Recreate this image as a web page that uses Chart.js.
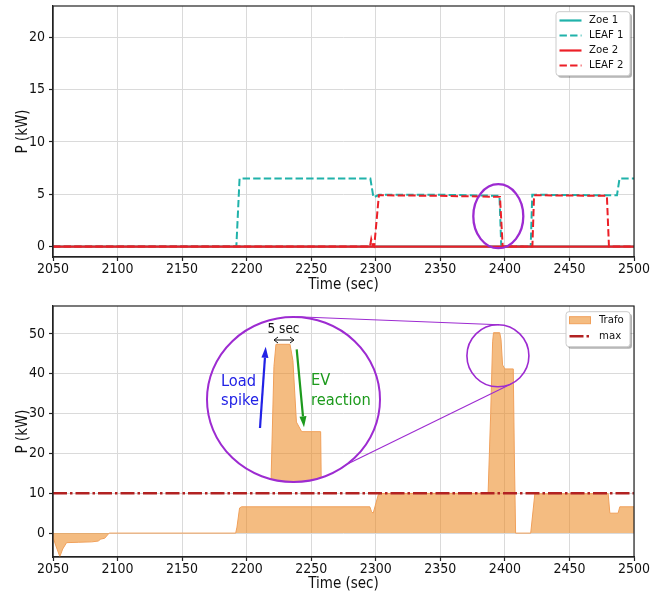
<!DOCTYPE html>
<html>
<head>
<meta charset="utf-8">
<script src="https://cdn.jsdelivr.net/npm/chart.js@4.4.1/dist/chart.umd.min.js"></script>
<style>
  html, body { margin: 0; padding: 0; background: #fff; }
  #wrap { position: relative; width: 668px; height: 594px; overflow: hidden; }
  canvas { position: absolute; left: 0; }
</style>
</head>
<body>
<div id="wrap">
  <canvas id="evChart" width="668" height="296" style="top:0"></canvas>
  <canvas id="trafoChart" width="668" height="298" style="top:296px"></canvas>
  <canvas id="insetChart" width="181" height="173"></canvas>
</div>
<script>
// -----------------------------
// Data
// -----------------------------
const timeTicks = [2050, 2100, 2150, 2200, 2250, 2300, 2350, 2400, 2450, 2500];
const evTicks = [0, 5, 10, 15, 20];
const trafoTicks = [0, 10, 20, 30, 40, 50];

const zoeTime = [2050, 2500];
const zoe1Power = [0, 0];
const zoe2Power = [0, 0];

const leaf1Time  = [2050, 2192, 2194.5, 2295.8, 2298.2, 2302.5, 2350, 2395.8, 2397.2, 2420, 2421.2, 2486.8, 2488.8, 2500];
const leaf1Power = [0, 0, 6.5, 6.5, 4.7, 4.95, 4.95, 4.85, 0, 0, 4.95, 4.9, 6.5, 6.5];

const leaf2Time  = [2050, 2295.5, 2296.5, 2297.8, 2298.8, 2302.4, 2350, 2396.2, 2398.3, 2421.3, 2422.6, 2479, 2480.6, 2500];
const leaf2Power = [0, 0, 0.7, 0.1, 0, 4.9, 4.85, 4.75, 0, 0, 4.9, 4.85, 0, 0];

const trafoTime  = [2050, 2052, 2055.3, 2057.5, 2060.5, 2070, 2080, 2085, 2087, 2090, 2093.5, 2191.5, 2192.5, 2194.5, 2196,
                    2295.4, 2296.7, 2298, 2301.9, 2304, 2387, 2389, 2390.5, 2391.2, 2396, 2397, 2398.2, 2400, 2406.5,
                    2407.3, 2408.3, 2420, 2423.2, 2480, 2481.3, 2487.7, 2489, 2500];
const trafoPower = [-1, -3, -5.9, -4, -2.4, -2.3, -2.2, -2.0, -1.5, -1.3, 0, 0, 1.5, 6.3, 6.6,
                    6.6, 5.4, 5.0, 9.6, 9.95, 10, 30, 48, 50.3, 50.3, 48.6, 42.2, 41.2, 41.2,
                    20, 0, 0, 9.85, 9.9, 5.0, 5.0, 6.6, 6.6];

const maxTime = [2050, 2500];
const maxPower = [10, 10];

// zoom annotation anchors (data units of the lower chart, radii in px)
const bigRing = {t: 2236.2, v: 33.6, rx: 86.5, ry: 82.5};
const smallRing = {t: 2394.6, v: 44.5, r: 31};
const topRing = {t: 2394.9, v: 2.9, rx: 25, ry: 32};

// -----------------------------
// Styles
// -----------------------------
const FONT = '"DejaVu Sans Condensed", "DejaVu Sans", sans-serif';
const TEAL = '#20b2aa';
const RED = '#ec1f27';
const PURPLE = '#9d2bd1';
const TRAFO_FILL = 'rgba(236,136,30,0.56)';
const TRAFO_EDGE = '#f0a05a';
const MAX_RED = '#b22222';
const DASH = [7.4, 3.2];
const DASHDOT = [14, 3, 2.5, 3];

Chart.defaults.font.family = FONT;
Chart.defaults.color = '#111';

const pts = (xs, ys) => xs.map((x, i) => ({x: x, y: ys[i]}));

function roundRect(ctx, x, y, w, h, r) {
  ctx.beginPath();
  ctx.moveTo(x + r, y);
  ctx.arcTo(x + w, y, x + w, y + h, r);
  ctx.arcTo(x + w, y + h, x, y + h, r);
  ctx.arcTo(x, y + h, x, y, r);
  ctx.arcTo(x, y, x + w, y, r);
  ctx.closePath();
}

// -----------------------------
// Plugins
// -----------------------------
const framePlugin = {
  id: 'frame',
  afterDatasetsDraw(chart) {
    const {ctx, chartArea: a} = chart;
    ctx.save();
    ctx.strokeStyle = '#222';
    ctx.lineWidth = 1.2;
    ctx.strokeRect(a.left, a.top, a.right - a.left, a.bottom - a.top);
    ctx.restore();
  }
};

const boxLegend = {
  id: 'boxLegend',
  afterDraw(chart, args, o) {
    const {ctx, chartArea: a} = chart;
    const x0 = a.right - o.right - o.width;
    const y0 = a.top + o.top;
    ctx.save();
    ctx.fillStyle = 'rgba(0,0,0,0.3)';
    roundRect(ctx, x0 + 2, y0 + 2, o.width, o.height, 3);
    ctx.fill();
    ctx.fillStyle = '#fff';
    ctx.strokeStyle = '#cccccc';
    ctx.lineWidth = 1;
    roundRect(ctx, x0, y0, o.width, o.height, 3);
    ctx.fill();
    ctx.stroke();
    chart.data.datasets.forEach((ds, i) => {
      const cy = y0 + o.firstRow + i * o.rowGap;
      const hx = x0 + 3.5;
      if (ds.fill) {
        ctx.fillStyle = ds.backgroundColor;
        ctx.fillRect(hx, cy - 3.5, 21, 7);
        ctx.strokeStyle = ds.borderColor;
        ctx.lineWidth = 1;
        ctx.strokeRect(hx, cy - 3.5, 21, 7);
      } else {
        ctx.strokeStyle = ds.borderColor;
        ctx.lineWidth = ds.borderWidth;
        ctx.setLineDash(ds.borderDash || []);
        ctx.beginPath();
        ctx.moveTo(hx, cy);
        ctx.lineTo(hx + 22, cy);
        ctx.stroke();
        ctx.setLineDash([]);
      }
      ctx.fillStyle = '#111';
      ctx.font = '11.3px ' + FONT;
      ctx.textBaseline = 'middle';
      ctx.fillText(ds.label, x0 + 33, cy);
    });
    ctx.restore();
  }
};

const topRingPlugin = {
  id: 'topRing',
  afterDatasetsDraw(chart) {
    const {ctx, scales: {x, y}} = chart;
    ctx.save();
    ctx.strokeStyle = PURPLE;
    ctx.lineWidth = 2.3;
    ctx.beginPath();
    ctx.ellipse(x.getPixelForValue(topRing.t), y.getPixelForValue(topRing.v), topRing.rx, topRing.ry, 0, 0, 2 * Math.PI);
    ctx.stroke();
    ctx.restore();
  }
};

const zoomLinks = {
  id: 'zoomLinks',
  afterDatasetsDraw(chart) {
    const {ctx, scales: {x, y}} = chart;
    const bx = x.getPixelForValue(bigRing.t), by = y.getPixelForValue(bigRing.v);
    const sx = x.getPixelForValue(smallRing.t), sy = y.getPixelForValue(smallRing.v);
    const d = Math.PI / 180;
    ctx.save();
    ctx.strokeStyle = PURPLE;
    ctx.lineWidth = 1.6;
    ctx.beginPath();
    ctx.arc(sx, sy, smallRing.r, 0, 2 * Math.PI);
    ctx.stroke();
    ctx.lineWidth = 1.1;
    [[-88, -88], [53, 65]].forEach(([ab, as]) => {
      ctx.beginPath();
      ctx.moveTo(bx + bigRing.rx * Math.cos(ab * d), by + bigRing.ry * Math.sin(ab * d));
      ctx.lineTo(sx + smallRing.r * Math.cos(as * d), sy + smallRing.r * Math.sin(as * d));
      ctx.stroke();
    });
    ctx.restore();
  }
};

function arrow(ctx, x1, y1, x2, y2, color, lw, hl, hw) {
  const ang = Math.atan2(y2 - y1, x2 - x1);
  const bx = x2 - hl * Math.cos(ang), by = y2 - hl * Math.sin(ang);
  ctx.strokeStyle = color;
  ctx.fillStyle = color;
  ctx.lineWidth = lw;
  ctx.beginPath();
  ctx.moveTo(x1, y1);
  ctx.lineTo(bx, by);
  ctx.stroke();
  ctx.beginPath();
  ctx.moveTo(x2, y2);
  ctx.lineTo(bx + hw * Math.sin(ang), by - hw * Math.cos(ang));
  ctx.lineTo(bx - hw * Math.sin(ang), by + hw * Math.cos(ang));
  ctx.closePath();
  ctx.fill();
}

const insetRing = {
  id: 'insetRing',
  beforeDatasetsDraw(chart) {
    const {ctx, width, height} = chart;
    ctx.save();
    ctx.beginPath();
    ctx.ellipse(width / 2, height / 2, bigRing.rx, bigRing.ry, 0, 0, 2 * Math.PI);
    ctx.clip();
  },
  afterDatasetsDraw(chart) {
    const {ctx, width, height} = chart;
    ctx.restore();
    ctx.save();
    ctx.strokeStyle = PURPLE;
    ctx.lineWidth = 2;
    ctx.beginPath();
    ctx.ellipse(width / 2, height / 2, bigRing.rx, bigRing.ry, 0, 0, 2 * Math.PI);
    ctx.stroke();

    // "5 sec" double arrow
    ctx.strokeStyle = '#111';
    ctx.lineWidth = 1;
    ctx.beginPath();
    ctx.moveTo(71, 27); ctx.lineTo(91, 27);
    ctx.moveTo(75, 24); ctx.lineTo(71, 27); ctx.lineTo(75, 30);
    ctx.moveTo(87, 24); ctx.lineTo(91, 27); ctx.lineTo(87, 30);
    ctx.stroke();
    ctx.fillStyle = '#111';
    ctx.font = '13.5px ' + FONT;
    ctx.textAlign = 'center';
    ctx.textBaseline = 'middle';
    ctx.fillText('5 sec', 80.5, 16);

    arrow(ctx, 57, 115, 62.7, 33.7, '#2222e6', 2.2, 11, 3.5);
    arrow(ctx, 93.7, 36.3, 101, 114.3, '#1d9a1d', 2.2, 11, 3.5);

    ctx.font = '16.3px ' + FONT;
    ctx.textAlign = 'left';
    ctx.fillStyle = '#2222e6';
    ctx.fillText('Load', 18, 69);
    ctx.fillText('spike', 18, 88);
    ctx.fillStyle = '#1d9a1d';
    ctx.fillText('EV', 108, 68);
    ctx.fillText('reaction', 108, 88);
    ctx.restore();
  }
};

// -----------------------------
// Shared axis builders
// -----------------------------
function xAxis(height, titlePad) {
  return {
    type: 'linear', min: 2050, max: 2500,
    afterBuildTicks: s => { s.ticks = timeTicks.map(v => ({value: v})); },
    afterFit: s => { s.height = height; s.paddingLeft = 0; s.paddingRight = 0; },
    grid: {color: '#dadada', lineWidth: 1, tickLength: 4, tickColor: '#222', tickWidth: 1.2},
    border: {display: true, color: '#222', width: 1.2},
    ticks: {font: {size: 14}, color: '#111', padding: 0, maxRotation: 0, autoSkip: false, callback: v => String(v)},
    title: {display: true, text: 'Time (sec)', font: {size: 15}, color: '#111', padding: {top: 0, bottom: titlePad}}
  };
}

function yAxis(min, max, tickList) {
  return {
    min: min, max: max,
    afterBuildTicks: s => { s.ticks = tickList.map(v => ({value: v})); },
    afterFit: s => { s.width = 53; s.paddingTop = 0; s.paddingBottom = 0; },
    grid: {color: '#dadada', lineWidth: 1, tickLength: 4, tickColor: '#222', tickWidth: 1.2},
    border: {display: true, color: '#222', width: 1.2},
    ticks: {font: {size: 14}, color: '#111', padding: 4, callback: v => String(v)},
    title: {display: true, text: 'P (kW)', font: {size: 15}, color: '#111', padding: {top: 14, bottom: 0}}
  };
}

// -----------------------------
// Upper chart: EV charging power
// -----------------------------
new Chart(document.getElementById('evChart'), {
  type: 'line',
  data: {
    datasets: [
      {label: 'Zoe 1', data: pts(zoeTime, zoe1Power), borderColor: TEAL, borderWidth: 2.2, order: 4},
      {label: 'LEAF 1', data: pts(leaf1Time, leaf1Power), borderColor: TEAL, borderWidth: 2, borderDash: DASH, order: 3},
      {label: 'Zoe 2', data: pts(zoeTime, zoe2Power), borderColor: RED, borderWidth: 2.2, order: 2},
      {label: 'LEAF 2', data: pts(leaf2Time, leaf2Power), borderColor: RED, borderWidth: 2, borderDash: DASH, order: 1}
    ]
  },
  options: {
    responsive: false, animation: false, devicePixelRatio: 1,
    elements: {point: {radius: 0}, line: {tension: 0, fill: false}},
    layout: {padding: {top: 6, right: 34, left: 0, bottom: 0}},
    plugins: {
      legend: {display: false}, tooltip: {enabled: false},
      boxLegend: {width: 74, height: 64, right: 4, top: 5.7, firstRow: 8.8, rowGap: 15}
    },
    scales: {x: xAxis(39, 2.3), y: yAxis(-1, 23, evTicks)}
  },
  plugins: [framePlugin, topRingPlugin, boxLegend]
});

// -----------------------------
// Lower chart: transformer load
// -----------------------------
const trafoChart = new Chart(document.getElementById('trafoChart'), {
  type: 'line',
  data: {
    datasets: [
      {label: 'Trafo', data: pts(trafoTime, trafoPower), borderColor: TRAFO_EDGE, backgroundColor: TRAFO_FILL,
       borderWidth: 1, fill: 'origin', order: 2},
      {label: 'max', data: pts(maxTime, maxPower), borderColor: MAX_RED, borderWidth: 2.5, borderDash: DASHDOT,
       fill: false, order: 1}
    ]
  },
  options: {
    responsive: false, animation: false, devicePixelRatio: 1,
    elements: {point: {radius: 0}, line: {tension: 0}},
    layout: {padding: {top: 10, right: 34, left: 0, bottom: 0}},
    plugins: {
      legend: {display: false}, tooltip: {enabled: false},
      boxLegend: {width: 64, height: 35, right: 4, top: 5.7, firstRow: 8.5, rowGap: 16}
    },
    scales: {x: xAxis(37, 0.8), y: yAxis(-6, 57, trafoTicks)}
  },
  plugins: [framePlugin, zoomLinks, boxLegend]
});

// -----------------------------
// Magnified inset of the load spike
// -----------------------------
const insetCanvas = document.getElementById('insetChart');
const bxPix = trafoChart.scales.x.getPixelForValue(bigRing.t);
const byPix = trafoChart.scales.y.getPixelForValue(bigRing.v);
insetCanvas.style.left = (bxPix - bigRing.rx - 4) + 'px';
insetCanvas.style.top = (296 + byPix - bigRing.ry - 4) + 'px';

new Chart(insetCanvas, {
  type: 'line',
  data: {
    datasets: [
      {label: 'Trafo', data: pts(trafoTime, trafoPower), borderColor: TRAFO_EDGE, backgroundColor: TRAFO_FILL,
       borderWidth: 1, fill: 'origin'}
    ]
  },
  options: {
    responsive: false, animation: false, devicePixelRatio: 1,
    elements: {point: {radius: 0}, line: {tension: 0}},
    layout: {padding: 0},
    plugins: {legend: {display: false}, tooltip: {enabled: false}},
    scales: {
      x: {type: 'linear', display: false, min: 2366.2, max: 2428.2},
      y: {display: false, min: 35.54, max: 53.56}
    }
  },
  plugins: [insetRing]
});
</script>
</body>
</html>
